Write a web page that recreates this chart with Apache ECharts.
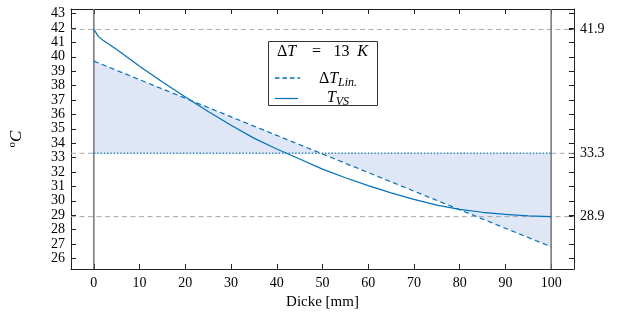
<!DOCTYPE html>
<html>
<head>
<meta charset="utf-8">
<script src="https://cdn.jsdelivr.net/npm/echarts@6/dist/echarts.min.js"></script>
<style>html,body{margin:0;padding:0;background:#fff}#c{width:622px;height:320px}</style>
</head>
<body>
<div id="c"></div>
<script>
// ---- data ----
const xTicks = [0, 10, 20, 30, 40, 50, 60, 70, 80, 90, 100];
const yTicks = [26, 27, 28, 29, 30, 31, 32, 33, 34, 35, 36, 37, 38, 39, 40, 41, 42, 43];
const rightTickLabels = [41.9, 33.3, 28.9];
const depth = [0, 1, 2, 5, 10, 15, 20, 25, 30, 35, 40, 45, 50, 55, 60, 65, 70, 75, 80, 85, 90, 95, 100];
const tVS = [41.9, 41.4, 41.15, 40.5, 39.35, 38.25, 37.2, 36.2, 35.25, 34.35, 33.6, 32.9, 32.2, 31.6, 31.05, 30.55, 30.1, 29.7, 29.4, 29.2, 29.05, 28.95, 28.9];
const linX = [0, 100];
const linY = [39.7, 26.8];
const refLevel = 33.3;
const dashLevels = [41.9, 28.9];
const boundX = [0, 100];
const xRange = [-5, 105];
const yRange = [25.26, 43.32];

const BLUE = '#0072BD';
const FILL = '#dfe6f5';
const GRAY = '#aaaaaa';
const FONT = 'Liberation Serif';

const chart = echarts.init(document.getElementById('c'), null, {renderer: 'canvas'});

const tvsData = depth.map((x, i) => [x, tVS[i]]);
const linData = linX.map((x, i) => [x, linY[i]]);
const refData = boundX.map(x => [x, refLevel]);

const axisLineStyle = {color: '#222', width: 1};
const tickStyle = {color: '#222', width: 1};

function guide(data, style, z) {
  return {type: 'line', xAxisIndex: 0, yAxisIndex: 0, data: data, z: z, silent: true,
    symbol: 'none', lineStyle: style};
}
const guideSeries = [];
dashLevels.forEach(v => guideSeries.push(guide([[xRange[0], v], [xRange[1], v]], {color: GRAY, width: 1, type: [5, 3.5]}, 2)));
guideSeries.push(guide([[xRange[0], refLevel], [boundX[0], refLevel]], {color: GRAY, width: 1, type: [5, 3.5]}, 2));
guideSeries.push(guide([[boundX[1], refLevel], [xRange[1], refLevel]], {color: GRAY, width: 1, type: [5, 3.5]}, 2));
boundX.forEach(x => guideSeries.push(guide([[x, yRange[0]], [x, yRange[1]]], {color: '#6b6b6b', width: 1.4, type: 'solid'}, 3)));

const option = {
  animation: false,
  grid: {left: 71, top: 9, right: 48, bottom: 51, outerBoundsMode: 'none', containLabel: false},
  xAxis: [
    {
      type: 'value', position: 'bottom', min: xRange[0], max: xRange[1],
      name: 'Dicke [mm]', nameLocation: 'middle', nameGap: 26,
      nameTextStyle: {fontFamily: FONT, fontSize: 15, color: '#000'},
      axisLine: {show: true, onZero: false, lineStyle: axisLineStyle},
      axisTick: {show: true, inside: true, length: 5, lineStyle: tickStyle, customValues: xTicks},
      axisLabel: {show: true, margin: 7, fontFamily: FONT, fontSize: 14, color: '#000', customValues: xTicks},
      splitLine: {show: false}
    },
    {
      type: 'value', position: 'top', min: xRange[0], max: xRange[1],
      axisLine: {show: true, onZero: false, lineStyle: axisLineStyle},
      axisTick: {show: true, inside: true, length: 5, lineStyle: tickStyle, customValues: xTicks},
      axisLabel: {show: false},
      splitLine: {show: false}
    }
  ],
  yAxis: [
    {
      type: 'value', position: 'left', min: yRange[0], max: yRange[1],
      name: '{o|o}{c|C}', nameLocation: 'middle', nameGap: 44, nameRotate: 90,
      nameTextStyle: {
        fontFamily: FONT, color: '#000',
        rich: {
          o: {fontFamily: FONT, fontSize: 11, color: '#000', verticalAlign: 'top', lineHeight: 20},
          c: {fontFamily: FONT, fontSize: 17, fontStyle: 'italic', color: '#000', lineHeight: 20}
        }
      },
      axisLine: {show: true, onZero: false, lineStyle: axisLineStyle},
      axisTick: {show: true, inside: true, length: 5, lineStyle: tickStyle, customValues: yTicks},
      axisLabel: {show: true, margin: 6, fontFamily: FONT, fontSize: 14, color: '#000', customValues: yTicks},
      splitLine: {show: false}
    },
    {
      type: 'value', position: 'right', min: yRange[0], max: yRange[1],
      axisLine: {show: true, onZero: false, lineStyle: axisLineStyle},
      axisTick: {show: true, inside: true, length: 5, lineStyle: tickStyle, customValues: yTicks.concat(rightTickLabels)},
      axisLabel: {show: true, margin: 6, fontFamily: FONT, fontSize: 14, color: '#000', customValues: rightTickLabels},
      splitLine: {show: false}
    }
  ],
  series: [
    {
      // shaded area between linear profile and reference level
      type: 'custom', xAxisIndex: 0, yAxisIndex: 0, silent: true, z: 1,
      data: [[0, refLevel]],
      renderItem: function (params, api) {
        const pts = [
          api.coord([linX[0], refLevel]),
          api.coord([linX[0], linY[0]]),
          api.coord([linX[1], linY[1]]),
          api.coord([linX[1], refLevel])
        ];
        return {type: 'polygon', shape: {points: pts}, style: {fill: FILL, stroke: null}};
      }
    }
  ].concat(guideSeries).concat([
    {
      name: 'ref', type: 'line', xAxisIndex: 0, yAxisIndex: 0, data: refData, z: 4,
      symbol: 'none', lineStyle: {color: '#2f86cc', width: 1.3, type: [1.5, 1.8]}
    },
    {
      name: 'lin', type: 'line', xAxisIndex: 0, yAxisIndex: 0, data: linData, z: 5,
      symbol: 'none', lineStyle: {color: BLUE, width: 1.2, type: [5, 3.5]}
    },
    {
      name: 'tvs', type: 'line', xAxisIndex: 0, yAxisIndex: 0, data: tvsData, z: 6,
      symbol: 'none', smooth: false, lineStyle: {color: BLUE, width: 1.2}
    }
  ]),
  graphic: [
    {
      type: 'group', left: 268, top: 41, z: 100,
      children: [
        {type: 'rect', shape: {x: 0.5, y: 0.5, width: 109, height: 64}, style: {fill: '#fff', stroke: '#333', lineWidth: 1}},
        {type: 'text', x: 9, y: 11, style: {text: '{n|Δ}{i|T}', rich: {n: {fontFamily: FONT, fontSize: 16, fill: '#000'}, i: {fontFamily: FONT, fontSize: 16, fontStyle: 'italic', fill: '#000'}}, align: 'left', verticalAlign: 'middle'}},
        {type: 'text', x: 48.5, y: 11, style: {text: '=', fontFamily: FONT, fontSize: 16, fill: '#000', align: 'center', verticalAlign: 'middle'}},
        {type: 'text', x: 73.5, y: 11, style: {text: '13', fontFamily: FONT, fontSize: 16, fill: '#000', align: 'center', verticalAlign: 'middle'}},
        {type: 'text', x: 94.5, y: 11, style: {text: 'K', fontFamily: FONT, fontSize: 16, fontStyle: 'italic', fill: '#000', align: 'center', verticalAlign: 'middle'}},
        {type: 'line', shape: {x1: 7, y1: 37, x2: 32, y2: 37}, style: {stroke: BLUE, lineWidth: 1.3, lineDash: [4.5, 3]}},
        {type: 'text', x: 70, y: 38, style: {text: '{n|Δ}{i|T}{s|Lin.}', align: 'center', verticalAlign: 'middle',
          rich: {n: {fontFamily: FONT, fontSize: 16, fill: '#000', lineHeight: 20}, i: {fontFamily: FONT, fontSize: 16, fontStyle: 'italic', fill: '#000', lineHeight: 20}, s: {fontFamily: FONT, fontSize: 12, fontStyle: 'italic', fill: '#000', verticalAlign: 'bottom', lineHeight: 12}}}},
        {type: 'line', shape: {x1: 7, y1: 57.5, x2: 30, y2: 57.5}, style: {stroke: BLUE, lineWidth: 1.2}},
        {type: 'text', x: 70, y: 57, style: {text: '{i|T}{s|VS}', align: 'center', verticalAlign: 'middle',
          rich: {i: {fontFamily: FONT, fontSize: 16, fontStyle: 'italic', fill: '#000', lineHeight: 20}, s: {fontFamily: FONT, fontSize: 12, fontStyle: 'italic', fill: '#000', verticalAlign: 'bottom', lineHeight: 12}}}}
      ]
    }
  ]
};
chart.setOption(option);
</script>
</body>
</html>
